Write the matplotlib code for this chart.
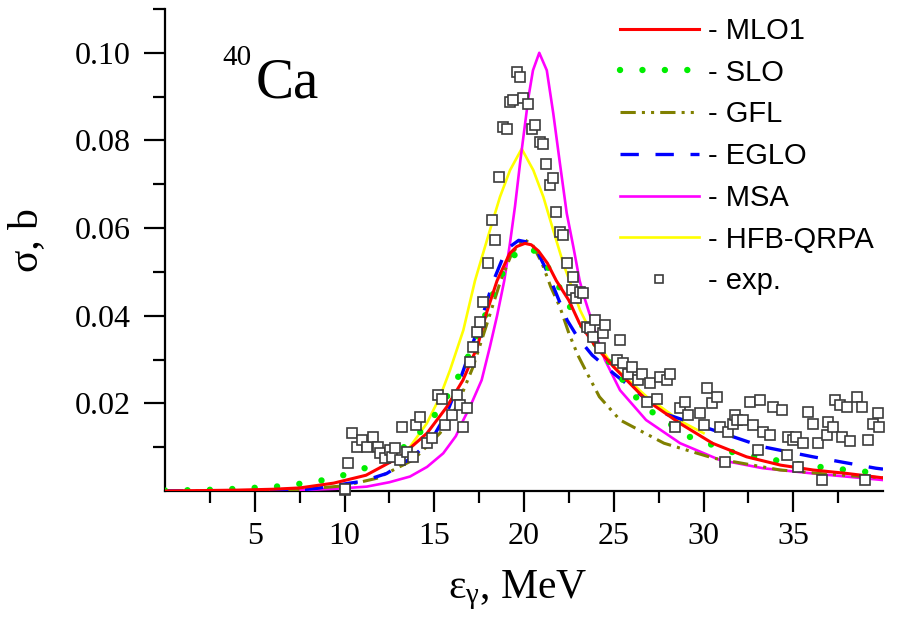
import matplotlib
matplotlib.use("Agg")
import matplotlib.pyplot as plt

plt.rcParams['font.family'] = ['Liberation Serif', 'DejaVu Serif']
plt.rcParams['mathtext.fontset'] = 'custom'
plt.rcParams['mathtext.rm'] = 'Liberation Serif'
plt.rcParams['mathtext.it'] = 'Liberation Serif:italic'

# ---------------- data ----------------
mlo1_x = [0, 2, 4, 6, 7.5, 9.4, 11.2, 13.1, 14.6, 15.7, 16.6, 17.4, 17.9, 18.5, 19.2, 19.6, 20.05, 20.4,
          20.8, 21.3, 21.8, 22.5, 23.1, 24.0, 25.0, 26.8, 28.7, 30.5, 32.4, 34.3, 36.1, 38.0, 40]
mlo1_y = [0, 0.0001, 0.0002, 0.0004, 0.0007, 0.0018, 0.0036, 0.0078, 0.0132, 0.0192, 0.0253, 0.0329,
          0.0405, 0.0480, 0.0542, 0.0558, 0.0565, 0.0562, 0.0548, 0.0520, 0.0480, 0.0435, 0.0382, 0.0329,
          0.0283, 0.0208, 0.0154, 0.0109, 0.0078, 0.0059, 0.0048, 0.0040, 0.0030]

slo_x = [0, 1.5, 2.8, 4.0, 5.3, 6.5, 7.8, 9.0, 10.3, 11.6, 12.9, 14.0, 15.1, 16.06, 16.8, 17.55, 18.2,
         18.9, 19.5, 20.0, 20.6, 21.2, 21.9, 22.7, 23.7, 25.0, 26.6, 29.2, 31.8, 35.6, 38.0, 40]
slo_y = [0.0001, 0.0002, 0.0003, 0.0005, 0.0008, 0.0011, 0.0018, 0.0026, 0.0040, 0.0059, 0.0086, 0.0124,
         0.0177, 0.0238, 0.0299, 0.0367, 0.0443, 0.0505, 0.0540, 0.0555, 0.0548, 0.0520, 0.0470, 0.0410,
         0.0350, 0.0280, 0.0195, 0.0124, 0.0086, 0.0059, 0.0048, 0.0040]

gfl_x = [0, 4, 7.5, 10, 11.8, 13.83, 15.32, 16.25, 17.17, 18.0, 18.7, 19.3, 19.97, 20.5, 21.0, 21.5,
         22.0, 22.5, 23.0, 23.5, 24.2, 25.35, 27.8, 30.55, 34.26, 37, 40]
gfl_y = [0, 0, 0.0003, 0.0012, 0.0029, 0.0071, 0.0132, 0.0192, 0.0284, 0.0390, 0.0480, 0.0540, 0.0576,
         0.0560, 0.0520, 0.0465, 0.0420, 0.0360, 0.0310, 0.0270, 0.0215, 0.0162, 0.0109, 0.0075, 0.0048,
         0.0038, 0.0030]

eglo_x = [0, 4, 7.4, 8.45, 10.3, 11.0, 12.35, 13.83, 14.95, 15.69, 16.43, 17.08, 17.73, 18.3, 18.8, 19.2,
          19.7, 20.2, 20.7, 21.3, 22.0, 22.4, 23.0, 23.8, 25.0, 27.8, 30.55, 33.3, 36.1, 39.6, 40]
eglo_y = [0, 0, 0.0002, 0.0006, 0.0018, 0.0022, 0.0040, 0.0078, 0.0124, 0.0177, 0.0253, 0.0329, 0.0405,
          0.0480, 0.0530, 0.0557, 0.0572, 0.0568, 0.0550, 0.0500, 0.0430, 0.0390, 0.0350, 0.0310, 0.0268,
          0.0177, 0.0139, 0.0101, 0.0078, 0.0052, 0.0050]

msa_x = [0, 5, 7.5, 9.5, 11.24, 12.5, 13.65, 14.6, 15.5, 16.2, 16.62, 16.99, 17.64, 18.1, 18.5, 18.9,
         19.2, 19.5, 19.8, 20.06, 20.25, 20.5, 20.85, 21.27, 21.63, 22.0, 22.38, 22.75, 23.1, 23.3, 24.05,
         24.5, 25.35, 26.8, 28.7, 30.9, 33.3, 36.1, 40]
msa_y = [0, 0, 0.0002, 0.0005, 0.0010, 0.0020, 0.0033, 0.0055, 0.0086, 0.0125, 0.0162, 0.0192, 0.0253,
         0.0329, 0.0400, 0.0480, 0.0560, 0.0650, 0.0755, 0.0838, 0.0899, 0.0960, 0.1000, 0.0960, 0.0862,
         0.0748, 0.0634, 0.0557, 0.0480, 0.0450, 0.0352, 0.0300, 0.0230, 0.0162, 0.0109, 0.0071, 0.0052,
         0.0040, 0.0025]

hfb_x = [13.3, 13.65, 14.58, 15.32, 15.88, 16.62, 17.27, 17.55, 18.1, 18.66, 19.22, 19.87, 20.52, 21.08,
         21.63, 22.19, 23.12, 23.86, 24.97, 26.84, 28.7, 30.0]
hfb_y = [0.0085, 0.0101, 0.0154, 0.0215, 0.0276, 0.0367, 0.0480, 0.0519, 0.0595, 0.0671, 0.0732, 0.0781,
         0.0732, 0.0671, 0.0595, 0.0519, 0.0413, 0.0352, 0.0285, 0.0215, 0.0160, 0.0132]

exp_x = [10.0, 10.03, 10.2, 10.4, 10.68, 10.96, 11.24, 11.6, 11.88, 11.98, 12.26, 12.53, 12.63, 12.81,
         13.09, 13.18, 13.46, 13.83, 14.0, 14.2, 14.58, 14.85, 15.23, 15.41, 15.6, 15.97, 16.25, 16.43,
         16.62, 16.8, 16.99, 17.17, 17.36, 17.55, 17.73, 18.0, 18.2, 18.38, 18.6, 18.85, 19.03, 19.22,
         19.4, 19.59, 19.78, 19.97, 20.24, 20.42, 20.61, 20.89, 21.04, 21.2, 21.45, 21.63, 21.78, 22.0,
         22.19, 22.4, 22.65, 22.75, 22.9, 23.1, 23.3, 23.5, 23.68, 23.86, 23.95, 24.23, 24.42, 24.5,
         25.16, 25.35, 25.53, 25.8, 25.99, 26.37, 26.55, 26.84, 27.02, 27.39, 27.58, 27.95, 28.13, 28.41,
         28.69, 28.97, 29.15, 29.81, 30.0, 30.18, 30.46, 30.74, 30.92, 31.2, 31.38, 31.66, 31.75, 31.85,
         32.21, 32.59, 32.77, 33.06, 33.15, 33.33, 33.7, 33.89, 34.35, 34.63, 34.72, 35.0, 35.18, 35.27,
         35.56, 35.84, 36.1, 36.4, 36.58, 36.86, 36.95, 37.23, 37.33, 37.6, 37.7, 37.98, 38.16, 38.53,
         38.81, 39.0, 39.18, 39.46, 39.74, 39.8]
exp_y = [0.0002, 0.0004, 0.0065, 0.0132, 0.0101, 0.0116, 0.0101, 0.0124, 0.0101, 0.0086, 0.0075, 0.0093,
         0.0078, 0.0097, 0.0071, 0.0147, 0.0090, 0.0078, 0.0151, 0.0170, 0.0109, 0.0120, 0.0219, 0.0211,
         0.0151, 0.0173, 0.0219, 0.0196, 0.0147, 0.0189, 0.0295, 0.0329, 0.0363, 0.0386, 0.0432, 0.0521,
         0.0618, 0.0572, 0.0717, 0.0831, 0.0825, 0.0888, 0.0892, 0.0956, 0.0945, 0.0896, 0.0884, 0.0827,
         0.0835, 0.0797, 0.0793, 0.0746, 0.0698, 0.0715, 0.0636, 0.0592, 0.0584, 0.0521, 0.0458, 0.0489,
         0.0440, 0.0455, 0.0451, 0.0375, 0.0371, 0.0352, 0.0390, 0.0326, 0.0360, 0.0379, 0.0299, 0.0344,
         0.0291, 0.0268, 0.0283, 0.0253, 0.0268, 0.0204, 0.0246, 0.0211, 0.0260, 0.0253, 0.0268, 0.0147,
         0.0189, 0.0204, 0.0173, 0.0177, 0.0151, 0.0234, 0.0200, 0.0215, 0.0147, 0.0067, 0.0135, 0.0154,
         0.0173, 0.0162, 0.0162, 0.0204, 0.0151, 0.0093, 0.0208, 0.0135, 0.0128, 0.0192, 0.0185, 0.0082,
         0.0124, 0.0116, 0.0124, 0.0055, 0.0109, 0.0181, 0.0154, 0.0109, 0.0025, 0.0128, 0.0158, 0.0147,
         0.0208, 0.0196, 0.0124, 0.0192, 0.0113, 0.0215, 0.0192, 0.0025, 0.0116, 0.0154, 0.0177, 0.0147]

labels = ['- MLO1', '- SLO', '- GFL', '- EGLO', '- MSA', '- HFB-QRPA', '- exp.']
x_ticks = [5, 10, 15, 20, 25, 30, 35]
y_ticks = [0.02, 0.04, 0.06, 0.08, 0.10]

# ---------------- figure ----------------
W, H = 902, 621
fig = plt.figure(figsize=(W / 100, H / 100), dpi=100)
ax = fig.add_axes([165 / W, 1 - 491 / H, (883 - 165) / W, (491 - 9) / H])

l_hfb, = ax.plot(hfb_x, hfb_y, color='#ffff00', lw=1.9, zorder=2)
l_msa, = ax.plot(msa_x, msa_y, color='#ff00ff', lw=1.9, zorder=3)
l_gfl, = ax.plot(gfl_x, gfl_y, color='#808000', lw=2.2, dashes=(5, 2, 1, 2, 1, 2), zorder=4)
l_eglo, = ax.plot(eglo_x, eglo_y, color='#0000ff', lw=2.4, dashes=(5.5, 5), zorder=5)
l_slo, = ax.plot(slo_x, slo_y, color='#00ee00', lw=4.6, dashes=(0.01, 3.5), dash_capstyle='round', zorder=6)
l_mlo, = ax.plot(mlo1_x, mlo1_y, color='#ff0000', lw=2.2, zorder=7)
l_exp, = ax.plot(exp_x, exp_y, ls='none', marker='s', ms=7.5, mfc='white', mec='#3c3c3c', mew=1.2,
                 zorder=8, clip_on=False)

ax.set_xlim(0, 40)
ax.set_ylim(0, 0.11)
ax.set_xticks(x_ticks)
ax.set_xticks([2.5, 7.5, 12.5, 17.5, 22.5, 27.5, 32.5, 37.5], minor=True)
ax.set_yticks(y_ticks)
ax.set_yticks([0.01, 0.03, 0.05, 0.07, 0.09, 0.11], minor=True)
ax.set_yticklabels(['%.2f' % v for v in y_ticks])
ax.set_xticklabels([str(v) for v in x_ticks])

for s in ['top', 'right']:
    ax.spines[s].set_visible(False)
for s in ['left', 'bottom']:
    ax.spines[s].set_linewidth(1.6)
ax.tick_params(which='major', length=15, width=1.6, direction='out')
ax.tick_params(which='minor', length=8.5, width=1.6, direction='out')
ax.tick_params(axis='x', which='major', labelsize=23, pad=7)
ax.tick_params(axis='y', which='major', labelsize=23, pad=10)

# axis titles
fig.text(27 / W, 1 - 240 / H, 'σ, b', rotation=90, ha='center', va='center', fontsize=30)
fig.text(518 / W, 1 - 598 / H, r'$\mathrm{\varepsilon_{\gamma}}$, MeV', ha='center', va='baseline',
         fontsize=30)

# nucleus annotation
fig.text(222 / W, 1 - 65 / H, '40', ha='left', va='baseline', fontsize=21)
fig.text(256 / W, 1 - 98 / H, 'Ca', ha='left', va='baseline', fontsize=41)

handles = [l_mlo, l_slo, l_gfl, l_eglo, l_msa, l_hfb, l_exp]
leg = ax.legend(handles, labels, loc='upper left', bbox_to_anchor=(620 / W, 1 - 17 / H),
                bbox_transform=fig.transFigure, frameon=False, borderpad=0, borderaxespad=0,
                handlelength=2.7, handletextpad=0.3, labelspacing=0.47, numpoints=1, markerscale=0.75,
                prop={'family': 'Liberation Sans', 'size': 21})

fig.savefig('out.png', dpi=100)
